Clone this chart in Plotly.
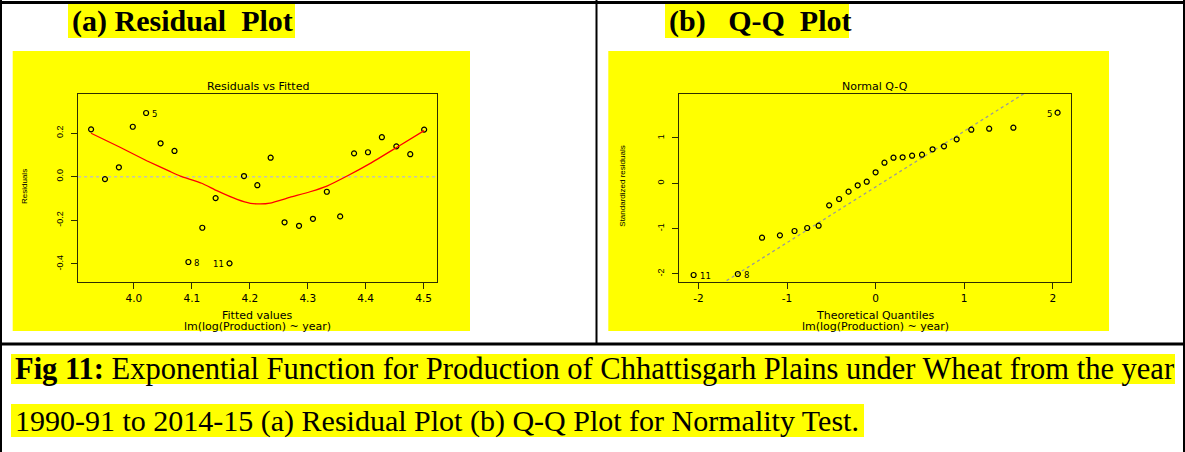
import plotly.graph_objects as go

W, H = 1185, 452

# ---------------- data ----------------
fitted_values = [3.926, 3.950, 3.974, 3.998, 4.021, 4.046, 4.070, 4.094, 4.118, 4.141,
                 4.165, 4.190, 4.213, 4.236, 4.260, 4.285, 4.309, 4.333, 4.356, 4.380,
                 4.404, 4.428, 4.453, 4.477, 4.501]
residuals = [0.217, -0.011, 0.043, 0.229, 0.292, 0.153, 0.118, -0.391, -0.234, -0.098,
             -0.397, 0.003, -0.039, 0.087, -0.209, -0.225, -0.193, -0.069, -0.182, 0.107,
             0.112, 0.181, 0.139, 0.103, 0.216]
smooth_x = [3.926, 3.976, 4.022, 4.063, 4.080, 4.117, 4.143, 4.178, 4.201, 4.218,
            4.235, 4.270, 4.304, 4.333, 4.368, 4.408, 4.454, 4.501]
smooth_y = [0.199, 0.135, 0.073, 0.023, 0.003, -0.030, -0.064, -0.104, -0.122, -0.125,
            -0.121, -0.094, -0.069, -0.043, 0.003, 0.061, 0.135, 0.211]

theoretical_q = [-2.054, -1.555, -1.282, -1.080, -0.915, -0.772, -0.643, -0.524, -0.412,
                 -0.305, -0.202, -0.100, 0.000, 0.100, 0.202, 0.305, 0.412, 0.524, 0.643,
                 0.772, 0.915, 1.080, 1.282, 1.555, 2.054]
std_residuals = [-2.024, -2.002, -1.201, -1.148, -1.053, -0.987, -0.936, -0.486, -0.347,
                 -0.185, -0.044, 0.035, 0.243, 0.455, 0.565, 0.574, 0.609, 0.631, 0.751,
                 0.817, 0.971, 1.183, 1.205, 1.227, 1.559]
qq_intercept = -0.08
qq_slope = 1.23

# labelled observations: (index, label)
resid_labels = [(4, "5"), (7, "8"), (10, "11")]
qq_labels = [(0, "11"), (1, "8"), (24, "5")]

res_xticks = [4.0, 4.1, 4.2, 4.3, 4.4, 4.5]
res_yticks = [-0.4, -0.2, 0.0, 0.2]
res_yticktext = ["-0.4", "-0.2", "0.0", "0.2"]
qq_xticks = [-2, -1, 0, 1, 2]
qq_yticks = [-2, -1, 0, 1]

# ---------------- helpers ----------------
def PX(x):
    return x / W

def PY(y):
    return 1 - y / H

YELLOW = "#ffff00"
BOX = "#2e2e00"
RFONT = "DejaVu Sans, Liberation Sans, Arial"
AFONT = "Liberation Sans, Arial"
TFONT = "Liberation Serif, Times New Roman, serif"

fig = go.Figure()

# Residuals vs fitted
fig.add_trace(go.Scatter(x=[3.8, 4.6], y=[0, 0], mode="lines",
                         line=dict(color="#c4c4b0", width=1.5, dash="dot"),
                         xaxis="x", yaxis="y", hoverinfo="skip", showlegend=False))
fig.add_trace(go.Scatter(x=fitted_values, y=residuals, mode="markers",
                         marker=dict(symbol="circle-open", size=5, color="black",
                                     line=dict(width=1.2, color="black")),
                         xaxis="x", yaxis="y", showlegend=False))
fig.add_trace(go.Scatter(x=smooth_x, y=smooth_y, mode="lines",
                         line=dict(color="red", width=1.3, shape="spline", smoothing=0.4),
                         xaxis="x", yaxis="y", showlegend=False))

# Normal Q-Q
qx = [-3, 3]
qy = [qq_intercept + qq_slope * v for v in qx]
fig.add_trace(go.Scatter(x=qx, y=qy, mode="lines",
                         line=dict(color="#9a9a9a", width=1.3, dash="dot"),
                         xaxis="x2", yaxis="y2", hoverinfo="skip", showlegend=False))
fig.add_trace(go.Scatter(x=theoretical_q, y=std_residuals, mode="markers",
                         marker=dict(symbol="circle-open", size=5, color="black",
                                     line=dict(width=1.2, color="black")),
                         xaxis="x2", yaxis="y2", showlegend=False))

axis_common = dict(showgrid=False, zeroline=False, showline=True, mirror=True,
                   linecolor=BOX, linewidth=1.3, ticks="outside", ticklen=6,
                   tickcolor=BOX, tickwidth=1.2)

left_dom_x = [PX(77.7), PX(437.3)]
right_dom_x = [PX(679), PX(1071.4)]
dom_y = [PY(282.3), PY(94)]

fig.update_layout(
    width=W, height=H, margin=dict(l=0, r=0, t=0, b=0),
    paper_bgcolor="white", plot_bgcolor="rgba(0,0,0,0)",
    xaxis=dict(domain=left_dom_x, range=[3.9029, 4.5237], anchor="y",
               tickvals=res_xticks, ticktext=["4.0", "4.1", "4.2", "4.3", "4.4", "4.5"],
               tickfont=dict(family=RFONT, size=10.5, color="black"), **axis_common),
    yaxis=dict(domain=dom_y, range=[-0.484, 0.379], anchor="x",
               tickvals=res_yticks, ticktext=res_yticktext, tickangle=-90,
               ticklabelstandoff=4,
               tickfont=dict(family=AFONT, size=9, color="black"), **axis_common),
    xaxis2=dict(domain=right_dom_x, range=[-2.219, 2.210], anchor="y2",
                tickvals=qq_xticks, ticktext=[str(v) for v in qq_xticks],
                tickfont=dict(family=RFONT, size=10.5, color="black"), **axis_common),
    yaxis2=dict(domain=dom_y, range=[-2.185, 1.971], anchor="x2",
                tickvals=qq_yticks, ticktext=[str(v) for v in qq_yticks], tickangle=-90,
                ticklabelstandoff=4,
                tickfont=dict(family=AFONT, size=9, color="black"), **axis_common),
)

shapes = []
# yellow panels
shapes.append(dict(type="rect", xref="paper", yref="paper", x0=PX(12.7), x1=PX(470),
                   y0=PY(331), y1=PY(51), fillcolor=YELLOW, line=dict(width=0), layer="below"))
shapes.append(dict(type="rect", xref="paper", yref="paper", x0=PX(608.3), x1=PX(1109),
                   y0=PY(331), y1=PY(51), fillcolor=YELLOW, line=dict(width=0), layer="below"))
# title highlights
shapes.append(dict(type="rect", xref="paper", yref="paper", x0=PX(68), x1=PX(295),
                   y0=PY(38), y1=PY(4), fillcolor=YELLOW, line=dict(width=0), layer="below"))
shapes.append(dict(type="rect", xref="paper", yref="paper", x0=PX(665), x1=PX(849),
                   y0=PY(38), y1=PY(4), fillcolor=YELLOW, line=dict(width=0), layer="below"))
# caption highlights
shapes.append(dict(type="rect", xref="paper", yref="paper", x0=PX(11), x1=PX(1175),
                   y0=PY(384), y1=PY(354), fillcolor=YELLOW, line=dict(width=0), layer="below"))
shapes.append(dict(type="rect", xref="paper", yref="paper", x0=PX(11), x1=PX(864),
                   y0=PY(437), y1=PY(404), fillcolor=YELLOW, line=dict(width=0), layer="below"))
# table borders
def hline(y, x0, x1, w):
    return dict(type="line", xref="paper", yref="paper", x0=PX(x0), x1=PX(x1),
                y0=PY(y), y1=PY(y), line=dict(color="black", width=w))

def vline(x, y0, y1, w):
    return dict(type="line", xref="paper", yref="paper", x0=PX(x), x1=PX(x),
                y0=PY(y0), y1=PY(y1), line=dict(color="black", width=w))

shapes.append(hline(2.5, 0, 1185, 3))
shapes.append(hline(344, 0, 1185, 3))
shapes.append(vline(1, 0, 452, 2))
shapes.append(vline(596.5, 0, 344, 2))
shapes.append(vline(1184, 0, 452, 2))
fig.update_layout(shapes=shapes)

ann = []
def text(x, y, s, size, family=RFONT, xanchor="center", yanchor="middle", angle=0, color="black"):
    ann.append(dict(xref="paper", yref="paper", x=PX(x), y=PY(y), text=s, showarrow=False,
                    xanchor=xanchor, yanchor=yanchor, textangle=angle,
                    font=dict(family=family, size=size, color=color)))

# cell titles
text(70, 21, "<b>(a) Residual\u00a0\u00a0Plot</b>", 30, TFONT, xanchor="left")
text(667, 21, "<b>(b)\u00a0\u00a0\u00a0Q-Q\u00a0\u00a0Plot</b>", 30, TFONT, xanchor="left")

# residual plot texts
text(257.5, 86.7, "Residuals vs Fitted", 11)
text(257.5, 315.7, "Fitted values", 11)
text(257.5, 326.5, "lm(log(Production) ~ year)", 11)
text(25, 187, "Residuals", 8, AFONT, angle=-90)

# qq plot texts
text(875.2, 86.7, "Normal Q-Q", 11)
text(875.2, 315.7, "Theoretical Quantiles", 11)
text(875.2, 326.5, "lm(log(Production) ~ year)", 11)
text(621.7, 186, "Standardized residuals", 8, AFONT, angle=-90)

# caption
text(13, 369, "<b>Fig 11:</b> Exponential Function for Production of Chhattisgarh Plains under Wheat from the year",
     30.5, TFONT, xanchor="left")
text(13, 421, "1990-91 to 2014-15 (a) Residual Plot (b) Q-Q Plot for Normality Test.",
     30, TFONT, xanchor="left")

# point labels
for i, lab in resid_labels:
    left = lab == "11"
    ann.append(dict(xref="x", yref="y", x=fitted_values[i], y=residuals[i], text=lab,
                    showarrow=False, xanchor="right" if left else "left", yanchor="middle",
                    xshift=-4 if left else 4, yshift=-1,
                    font=dict(family=RFONT, size=8.5, color="black")))
for i, lab in qq_labels:
    left = lab == "5"
    ann.append(dict(xref="x2", yref="y2", x=theoretical_q[i], y=std_residuals[i], text=lab,
                    showarrow=False, xanchor="right" if left else "left", yanchor="middle",
                    xshift=-4 if left else 4, yshift=-1,
                    font=dict(family=RFONT, size=8.5, color="black")))

fig.update_layout(annotations=ann)
fig.write_html("out.html", config={"displayModeBar": False},
               post_script="document.body.style.margin='0';document.body.style.overflow='hidden';")
